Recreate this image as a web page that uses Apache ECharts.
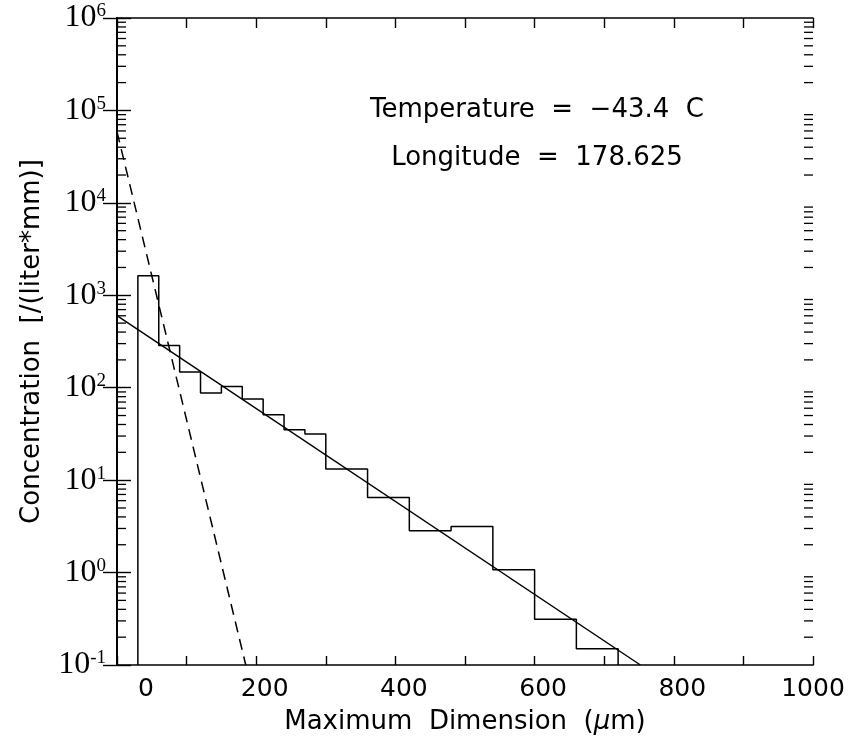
<!DOCTYPE html>
<html><head><meta charset="utf-8">
<script src="https://cdn.jsdelivr.net/npm/echarts@6/dist/echarts.min.js"></script>
<style>html,body{margin:0;padding:0;background:#fff}#c{width:849px;height:744px}</style>
</head><body><div id="c"></div>
<script>
// ---- data ----
const binEdges = [30,60,90,120,150,180,210,240,270,300,360,420,480,540,600,660,720];
const binValues = [1630,286,148,87.5,103,75.4,50.9,35.1,31.5,13.2,6.48,2.83,3.15,1.07,0.313,0.150];
const solidFitD = [0, 752];
const solidFitN = [601, 0.1];
const dashFitD = [0, 185];
const dashFitN = [59000, 0.1];
const xTickLabels = ['0','200','400','600','800','1000'];
const yDecades = [-1,0,1,2,3,4,5,6];
const annotations = ['Temperature  =  \u221243.4  C', 'Longitude  =  178.625'];
const xMin = 0, xMax = 1000, yMin = 0.1, yMax = 1e6;

// ---- build ----
const histPts = [[binEdges[0], yMin]];
for (let i = 0; i < binValues.length; i++) {
  histPts.push([binEdges[i], binValues[i]], [binEdges[i+1], binValues[i]]);
}
histPts.push([binEdges[binEdges.length-1], yMin]);

const minorTicks = [];
for (let k = 0; k < yDecades.length - 1; k++) {
  for (let m = 2; m <= 9; m++) minorTicks.push([xMin, m * Math.pow(10, yDecades[k])]);
}

const sans = '"DejaVu Sans", sans-serif';
const serif = '"Liberation Serif", "Times New Roman", serif';
const black = '#000';

const chart = echarts.init(document.getElementById('c'), null, {renderer: 'canvas'});
chart.setOption({
  animation: false,
  backgroundColor: '#fff',
  grid: {left: 117, right: 36, top: 18, bottom: 79, containLabel: false, outerBoundsMode: 'none'},
  xAxis: [{
    type: 'value', min: xMin, max: xMax, interval: 100, position: 'bottom',
    axisLine: {show: true, lineStyle: {color: black, width: 1.7}},
    axisTick: {show: true, inside: true, length: 9, lineStyle: {color: black, width: 1.4}},
    splitLine: {show: false},
    axisLabel: {
      show: true, margin: 12, showMinLabel: true, showMaxLabel: true,
      formatter: v => {
        if (v % 200 !== 0) return '';
        const t = xTickLabels[v / 200];
        if (v === xMin) return '{z|' + t + '}';
        if (v === xMax) return '{n|' + t + '}';
        return '{m|' + t + '}';
      },
      rich: {
        z: {fontFamily: sans, fontSize: 25, color: black, padding: [0, 0, 0, 58]},
        m: {fontFamily: sans, fontSize: 25, color: black, padding: [0, 0, 0, 17]},
        n: {fontFamily: sans, fontSize: 25, color: black}
      }
    },
    name: '{n|Maximum  Dimension  (}{g|\u03bc}{n|m)}',
    nameLocation: 'middle', nameGap: 44,
    nameTextStyle: {
      rich: {
        n: {fontFamily: sans, fontSize: 26, color: black},
        g: {fontFamily: sans, fontSize: 26, fontStyle: 'italic', color: black}
      }
    }
  }, {
    type: 'value', min: xMin, max: xMax, interval: 100, position: 'top',
    axisLine: {show: true, lineStyle: {color: black, width: 1.7}},
    axisTick: {show: true, inside: true, length: 10, lineStyle: {color: black, width: 1.4}},
    splitLine: {show: false}, axisLabel: {show: false}
  }],
  yAxis: [{
    type: 'log', logBase: 10, min: yMin, max: yMax, splitNumber: 7, position: 'left',
    axisLine: {show: true, lineStyle: {color: black, width: 1.9}},
    axisTick: {show: true, inside: true, length: 14, lineStyle: {color: black, width: 1.4}},
    splitLine: {show: false},
    axisLabel: {
      show: true, margin: 11, showMinLabel: true, showMaxLabel: true,
      formatter: v => {
        const e = Math.round(Math.log10(v));
        return '{b|10}{s|' + (e < 0 ? '-' + (-e) : e) + '}';
      },
      rich: {
        b: {fontFamily: serif, fontSize: 32, color: black},
        s: {fontFamily: serif, fontSize: 19, color: black, verticalAlign: 'top'}
      }
    },
    name: 'Concentration  [/(liter*mm)]',
    nameLocation: 'middle', nameGap: 72, nameRotate: 90,
    nameTextStyle: {fontFamily: sans, fontSize: 26, color: black}
  }, {
    type: 'log', logBase: 10, min: yMin, max: yMax, splitNumber: 7, position: 'right',
    axisLine: {show: true, lineStyle: {color: black, width: 1.7}},
    axisTick: {show: true, inside: true, length: 14, lineStyle: {color: black, width: 1.4}},
    splitLine: {show: false}, axisLabel: {show: false}
  }],
  graphic: annotations.map((t, i) => ({
    type: 'text', x: 537, y: 110 + i * 48,
    style: {text: t, font: '26px ' + sans, fill: black, align: 'center', verticalAlign: 'middle'}
  })),
  series: [{
    type: 'line', name: 'histogram', data: histPts, symbol: 'none',
    lineStyle: {color: black, width: 1.5}, xAxisIndex: 0, yAxisIndex: 0, z: 3
  }, {
    type: 'line', name: 'fit', data: solidFitD.map((d, i) => [d, solidFitN[i]]), symbol: 'none',
    lineStyle: {color: black, width: 1.5}, xAxisIndex: 0, yAxisIndex: 0, z: 3
  }, {
    type: 'line', name: 'fit small', data: dashFitD.map((d, i) => [d, dashFitN[i]]), symbol: 'none',
    lineStyle: {color: black, width: 1.5, type: [11, 7]}, xAxisIndex: 0, yAxisIndex: 0, z: 3
  }, {
    type: 'custom', name: 'minor ticks', xAxisIndex: 0, yAxisIndex: 0, silent: true,
    data: minorTicks,
    renderItem: (params, api) => {
      const v = api.value(1);
      const l = api.coord([xMin, v]);
      const r = api.coord([xMax, v]);
      return {type: 'group', children: [
        {type: 'line', shape: {x1: l[0], y1: l[1], x2: l[0] + 9, y2: l[1]}, style: {stroke: black, lineWidth: 1.3}},
        {type: 'line', shape: {x1: r[0], y1: r[1], x2: r[0] - 9, y2: r[1]}, style: {stroke: black, lineWidth: 1.3}}
      ]};
    }
  }]
});
</script>
</body></html>
